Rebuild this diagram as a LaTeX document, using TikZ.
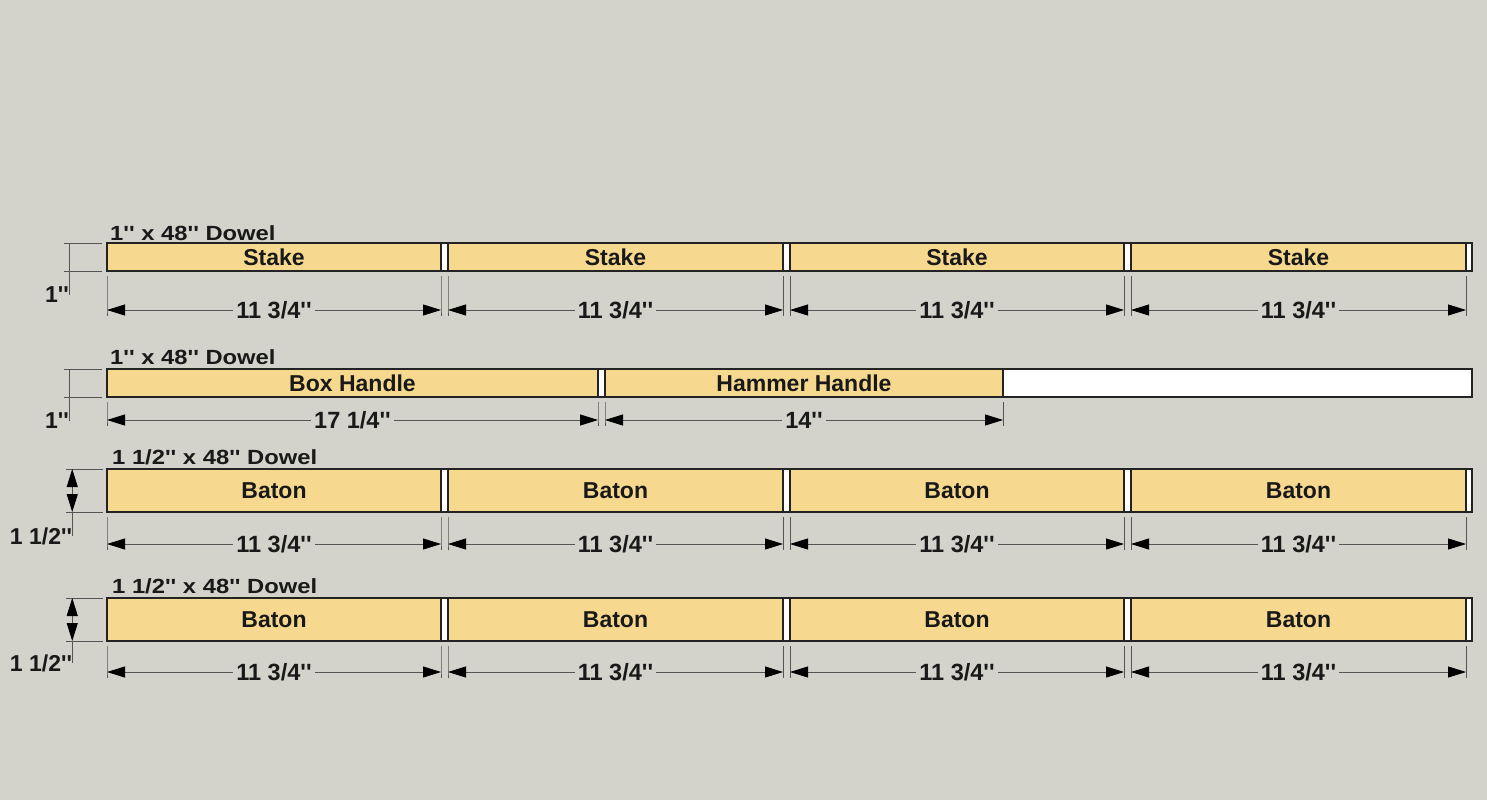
\documentclass[tikz,border=0pt]{standalone}
\usepackage{fontspec}
\newfontfamily\cutfont{Liberation Sans}
\newfontfamily\dowelfont{Liberation Sans}[FakeStretch=1.16]
\usetikzlibrary{arrows.meta}
\definecolor{paper}{RGB}{211,211,203}
\definecolor{wood}{RGB}{246,217,143}
\definecolor{edge}{RGB}{35,35,35}
\definecolor{dimgray}{RGB}{85,85,85}
\tikzset{
  stock/.style={draw=edge,fill=white,line width=1.3pt,anchor=north west,
    minimum width=1365pt,inner sep=0pt,outer sep=0pt},
  piece/.style={draw=edge,fill=wood,line width=1.3pt,anchor=north west,
    inner sep=0pt,outer sep=0pt,text=black!90,
    font=\cutfont\bfseries\fontsize{23}{23}\selectfont},
  dowel/.style={anchor=base west,inner sep=0pt,text=black!90,
    font=\dowelfont\bfseries\fontsize{20.5}{20.5}\selectfont},
  sizetext/.style={inner sep=0pt,text=black!90,
    font=\cutfont\bfseries\fontsize{23}{23}\selectfont},
  extline/.style={draw=dimgray,line width=0.8pt},
  dimline/.style={draw=dimgray,line width=0.8pt,
    {Triangle[length=18pt,width=11pt,color=black]}-{Triangle[length=18pt,width=11pt,color=black]}},
  dimtext/.style={fill=paper,inner xsep=3pt,inner ysep=0pt,text=black!90,
    font=\cutfont\bfseries\fontsize{23.5}{23.5}\selectfont}
}
\begin{document}
\begin{tikzpicture}[x=1pt,y=-1pt]
  \fill[paper] (0,0) rectangle (1487,800);
  \coordinate (r1) at (0,310);
  \coordinate (r2) at (0,420);
  \coordinate (r3) at (0,544);
  \coordinate (r4) at (0,672);

  % first dowel, four stakes
  \node[dowel] (t1) at (110,240.5) {1'' x 48'' Dowel};
  \node[stock,minimum height=28pt] (dw1) at (107,243) {};
  \node[piece,minimum width=334pt,minimum height=28pt] (s1) at (107,243) {Stake};
  \node[piece,minimum width=335pt,minimum height=28pt] (s2) at (448,243) {Stake};
  \node[piece,minimum width=334pt,minimum height=28pt] (s3) at (790,243) {Stake};
  \node[piece,minimum width=335pt,minimum height=28pt] (s4) at (1131,243) {Stake};
  \node[sizetext] (h1) at (57,295) {1''};
  \draw[extline] (dw1.north west) ++(-5,0) -- ++(-38,0);
  \draw[extline] (dw1.south west) ++(-5,0) -- ++(-38,0);
  \draw[extline] (dw1.north west -| h1.east) -- (h1.east);
  \draw[extline] (s1.south west) ++(0,5) -- (s1.south west |- r1) -- ++(0,6);
  \draw[extline] (s1.south east) ++(0,5) -- (s1.south east |- r1) -- ++(0,6);
  \draw[extline] (s2.south west) ++(0,5) -- (s2.south west |- r1) -- ++(0,6);
  \draw[extline] (s2.south east) ++(0,5) -- (s2.south east |- r1) -- ++(0,6);
  \draw[extline] (s3.south west) ++(0,5) -- (s3.south west |- r1) -- ++(0,6);
  \draw[extline] (s3.south east) ++(0,5) -- (s3.south east |- r1) -- ++(0,6);
  \draw[extline] (s4.south west) ++(0,5) -- (s4.south west |- r1) -- ++(0,6);
  \draw[extline] (s4.south east) ++(0,5) -- (s4.south east |- r1) -- ++(0,6);
  \draw[dimline] (s1.south west |- r1) -- (s1.south east |- r1) node[midway,dimtext] (d11) {11 3/4''};
  \draw[dimline] (s2.south west |- r1) -- (s2.south east |- r1) node[midway,dimtext] (d12) {11 3/4''};
  \draw[dimline] (s3.south west |- r1) -- (s3.south east |- r1) node[midway,dimtext] (d13) {11 3/4''};
  \draw[dimline] (s4.south west |- r1) -- (s4.south east |- r1) node[midway,dimtext] (d14) {11 3/4''};

  % second dowel, two handles
  \node[dowel] (t2) at (110,364.5) {1'' x 48'' Dowel};
  \node[stock,minimum height=28pt] (dw2) at (107,369) {};
  \node[piece,minimum width=491pt,minimum height=28pt] (bh) at (107,369) {Box Handle};
  \node[piece,minimum width=398pt,minimum height=28pt] (hh) at (605,369) {Hammer Handle};
  \node[sizetext] (h2) at (57,421) {1''};
  \draw[extline] (dw2.north west) ++(-5,0) -- ++(-38,0);
  \draw[extline] (dw2.south west) ++(-5,0) -- ++(-38,0);
  \draw[extline] (dw2.north west -| h2.east) -- (h2.east);
  \draw[extline] (bh.south west) ++(0,5) -- (bh.south west |- r2) -- ++(0,6);
  \draw[extline] (bh.south east) ++(0,5) -- (bh.south east |- r2) -- ++(0,6);
  \draw[extline] (hh.south west) ++(0,5) -- (hh.south west |- r2) -- ++(0,6);
  \draw[extline] (hh.south east) ++(0,5) -- (hh.south east |- r2) -- ++(0,6);
  \draw[dimline] (bh.south west |- r2) -- (bh.south east |- r2) node[midway,dimtext] (d21) {17 1/4''};
  \draw[dimline] (hh.south west |- r2) -- (hh.south east |- r2) node[midway,dimtext] (d22) {14''};

  % third dowel, four batons
  \node[dowel] (t3) at (112,464.5) {1 1/2'' x 48'' Dowel};
  \node[stock,minimum height=43pt] (dw3) at (107,469) {};
  \node[piece,minimum width=334pt,minimum height=43pt] (a1) at (107,469) {Baton};
  \node[piece,minimum width=335pt,minimum height=43pt] (a2) at (448,469) {Baton};
  \node[piece,minimum width=334pt,minimum height=43pt] (a3) at (790,469) {Baton};
  \node[piece,minimum width=335pt,minimum height=43pt] (a4) at (1131,469) {Baton};
  \node[sizetext] (h3) at (41,536) {1 1/2''};
  \draw[extline] (dw3.north west) ++(-4,0) -- ++(-37,0);
  \draw[extline] (dw3.south west) ++(-4,0) -- ++(-37,0);
  \draw[dimline] (dw3.north west -| h3.east) -- (dw3.south west -| h3.east);
  \draw[extline] (dw3.south west -| h3.east) -- (h3.east);
  \draw[extline] (a1.south west) ++(0,5) -- (a1.south west |- r3) -- ++(0,6);
  \draw[extline] (a1.south east) ++(0,5) -- (a1.south east |- r3) -- ++(0,6);
  \draw[extline] (a2.south west) ++(0,5) -- (a2.south west |- r3) -- ++(0,6);
  \draw[extline] (a2.south east) ++(0,5) -- (a2.south east |- r3) -- ++(0,6);
  \draw[extline] (a3.south west) ++(0,5) -- (a3.south west |- r3) -- ++(0,6);
  \draw[extline] (a3.south east) ++(0,5) -- (a3.south east |- r3) -- ++(0,6);
  \draw[extline] (a4.south west) ++(0,5) -- (a4.south west |- r3) -- ++(0,6);
  \draw[extline] (a4.south east) ++(0,5) -- (a4.south east |- r3) -- ++(0,6);
  \draw[dimline] (a1.south west |- r3) -- (a1.south east |- r3) node[midway,dimtext] (d31) {11 3/4''};
  \draw[dimline] (a2.south west |- r3) -- (a2.south east |- r3) node[midway,dimtext] (d32) {11 3/4''};
  \draw[dimline] (a3.south west |- r3) -- (a3.south east |- r3) node[midway,dimtext] (d33) {11 3/4''};
  \draw[dimline] (a4.south west |- r3) -- (a4.south east |- r3) node[midway,dimtext] (d34) {11 3/4''};

  % fourth dowel, four batons
  \node[dowel] (t4) at (112,593.5) {1 1/2'' x 48'' Dowel};
  \node[stock,minimum height=43pt] (dw4) at (107,598) {};
  \node[piece,minimum width=334pt,minimum height=43pt] (b1) at (107,598) {Baton};
  \node[piece,minimum width=335pt,minimum height=43pt] (b2) at (448,598) {Baton};
  \node[piece,minimum width=334pt,minimum height=43pt] (b3) at (790,598) {Baton};
  \node[piece,minimum width=335pt,minimum height=43pt] (b4) at (1131,598) {Baton};
  \node[sizetext] (h4) at (41,663) {1 1/2''};
  \draw[extline] (dw4.north west) ++(-4,0) -- ++(-37,0);
  \draw[extline] (dw4.south west) ++(-4,0) -- ++(-37,0);
  \draw[dimline] (dw4.north west -| h4.east) -- (dw4.south west -| h4.east);
  \draw[extline] (dw4.south west -| h4.east) -- (h4.east);
  \draw[extline] (b1.south west) ++(0,5) -- (b1.south west |- r4) -- ++(0,6);
  \draw[extline] (b1.south east) ++(0,5) -- (b1.south east |- r4) -- ++(0,6);
  \draw[extline] (b2.south west) ++(0,5) -- (b2.south west |- r4) -- ++(0,6);
  \draw[extline] (b2.south east) ++(0,5) -- (b2.south east |- r4) -- ++(0,6);
  \draw[extline] (b3.south west) ++(0,5) -- (b3.south west |- r4) -- ++(0,6);
  \draw[extline] (b3.south east) ++(0,5) -- (b3.south east |- r4) -- ++(0,6);
  \draw[extline] (b4.south west) ++(0,5) -- (b4.south west |- r4) -- ++(0,6);
  \draw[extline] (b4.south east) ++(0,5) -- (b4.south east |- r4) -- ++(0,6);
  \draw[dimline] (b1.south west |- r4) -- (b1.south east |- r4) node[midway,dimtext] (d41) {11 3/4''};
  \draw[dimline] (b2.south west |- r4) -- (b2.south east |- r4) node[midway,dimtext] (d42) {11 3/4''};
  \draw[dimline] (b3.south west |- r4) -- (b3.south east |- r4) node[midway,dimtext] (d43) {11 3/4''};
  \draw[dimline] (b4.south west |- r4) -- (b4.south east |- r4) node[midway,dimtext] (d44) {11 3/4''};
\end{tikzpicture}
\end{document}
